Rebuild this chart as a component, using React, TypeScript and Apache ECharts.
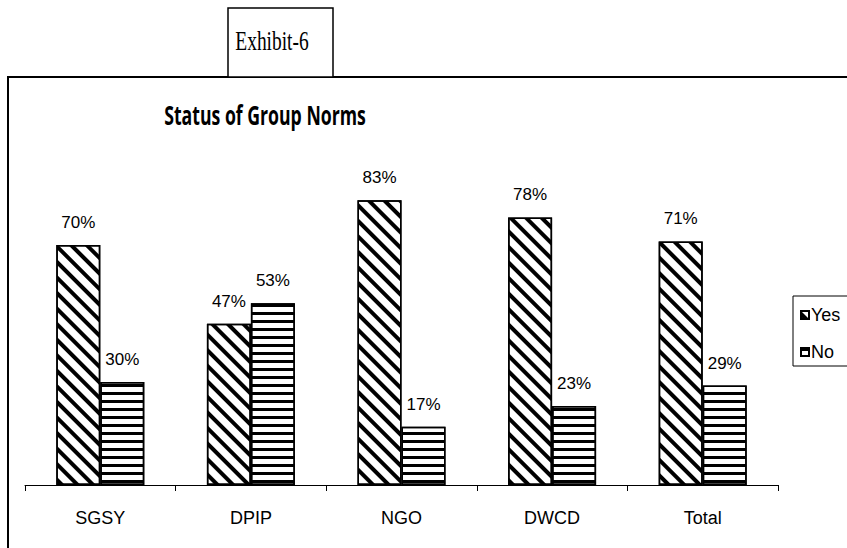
import React, { useEffect, useRef } from "react";
import * as echarts from "echarts";

const categories = ["SGSY", "DPIP", "NGO", "DWCD", "Total"];
const yesValues = [70, 47, 83, 78, 71];
const noValues = [30, 53, 17, 23, 29];
const seriesNames = ["Yes", "No"];
const titleText = "Status of Group Norms";
const exhibitText = "Exhibit-6";

const SANS = "'Liberation Sans', Arial, sans-serif";

export default function App() {
  const ref = useRef<HTMLDivElement>(null);
  useEffect(() => {
    if (!ref.current) return;
    const chart = echarts.init(ref.current, undefined, { renderer: "svg" });
    const labelStyle = {
      show: true,
      position: "top" as const,
      distance: 14,
      formatter: "{c}%",
      fontFamily: SANS,
      fontSize: 17,
      color: "#000",
    };
    chart.setOption({
      animation: false,
      backgroundColor: "#fff",
      grid: { left: 25, right: 69, top: 142, bottom: 63 },
      xAxis: {
        type: "category",
        data: categories,
        axisLine: { show: true, lineStyle: { color: "#000", width: 1 } },
        axisTick: { show: true, length: 6, lineStyle: { color: "#000" } },
        axisLabel: { fontFamily: SANS, fontSize: 18, color: "#000", margin: 24 },
      },
      yAxis: {
        type: "value",
        min: 0,
        max: 100,
        show: false,
        splitLine: { show: false },
      },
      legend: {
        orient: "vertical",
        left: 793,
        top: 296,
        padding: [10, 30, 5, 7],
        itemGap: 19,
        itemWidth: 8,
        itemHeight: 8,
        icon: "rect",
        borderColor: "#000",
        borderWidth: 1,
        textStyle: { fontFamily: SANS, fontSize: 18, color: "#000", padding: [0, 0, 0, -3] },
        data: seriesNames,
      },
      series: [
        {
          name: seriesNames[0],
          type: "bar",
          data: yesValues,
          barWidth: 44,
          barGap: "0%",
          itemStyle: {
            color: "#fff",
            borderColor: "#000",
            borderWidth: 1.5,
            decal: {
              symbol: "rect",
              symbolSize: 1,
              dashArrayX: [1, 0],
              dashArrayY: [4, 7],
              rotation: Math.PI / 4,
              color: "#000",
              backgroundColor: "#fff",
            },
          },
          label: labelStyle,
        },
        {
          name: seriesNames[1],
          type: "bar",
          data: noValues,
          barWidth: 44,
          barGap: "0%",
          itemStyle: {
            color: "#fff",
            borderColor: "#000",
            borderWidth: 1.5,
            decal: {
              symbol: "rect",
              symbolSize: 1,
              dashArrayX: [1, 0],
              dashArrayY: [3, 5],
              rotation: 0,
              color: "#000",
              backgroundColor: "#fff",
            },
          },
          label: labelStyle,
        },
      ],
      graphic: [
        {
          type: "polyline",
          z: 10,
          shape: { points: [[8, 548], [8, 77], [847, 77]] },
          style: { stroke: "#000", lineWidth: 2, fill: "none" },
        },
        {
          type: "rect",
          z: 11,
          shape: { x: 228, y: 8, width: 105, height: 69 },
          style: { fill: "#fff", stroke: "#000", lineWidth: 1.5 },
        },
        {
          type: "text",
          z: 12,
          x: 272,
          y: 41,
          scaleX: 0.72,
          style: {
            text: exhibitText,
            fontFamily: "'Liberation Serif', 'Times New Roman', serif",
            fontSize: 27,
            fill: "#000",
            align: "center",
            verticalAlign: "middle",
          },
        },
        {
          type: "text",
          z: 12,
          x: 265,
          y: 115,
          scaleX: 0.68,
          style: {
            text: titleText,
            fontFamily: "'Open Sans', sans-serif",
            fontWeight: "bold",
            fontSize: 26,
            fill: "#000",
            align: "center",
            verticalAlign: "middle",
          },
        },
      ],
    });
    return () => chart.dispose();
  }, []);
  return (
    <div
      ref={ref}
      style={{ position: "fixed", left: 0, top: 0, width: 847, height: 548 }}
    />
  );
}
